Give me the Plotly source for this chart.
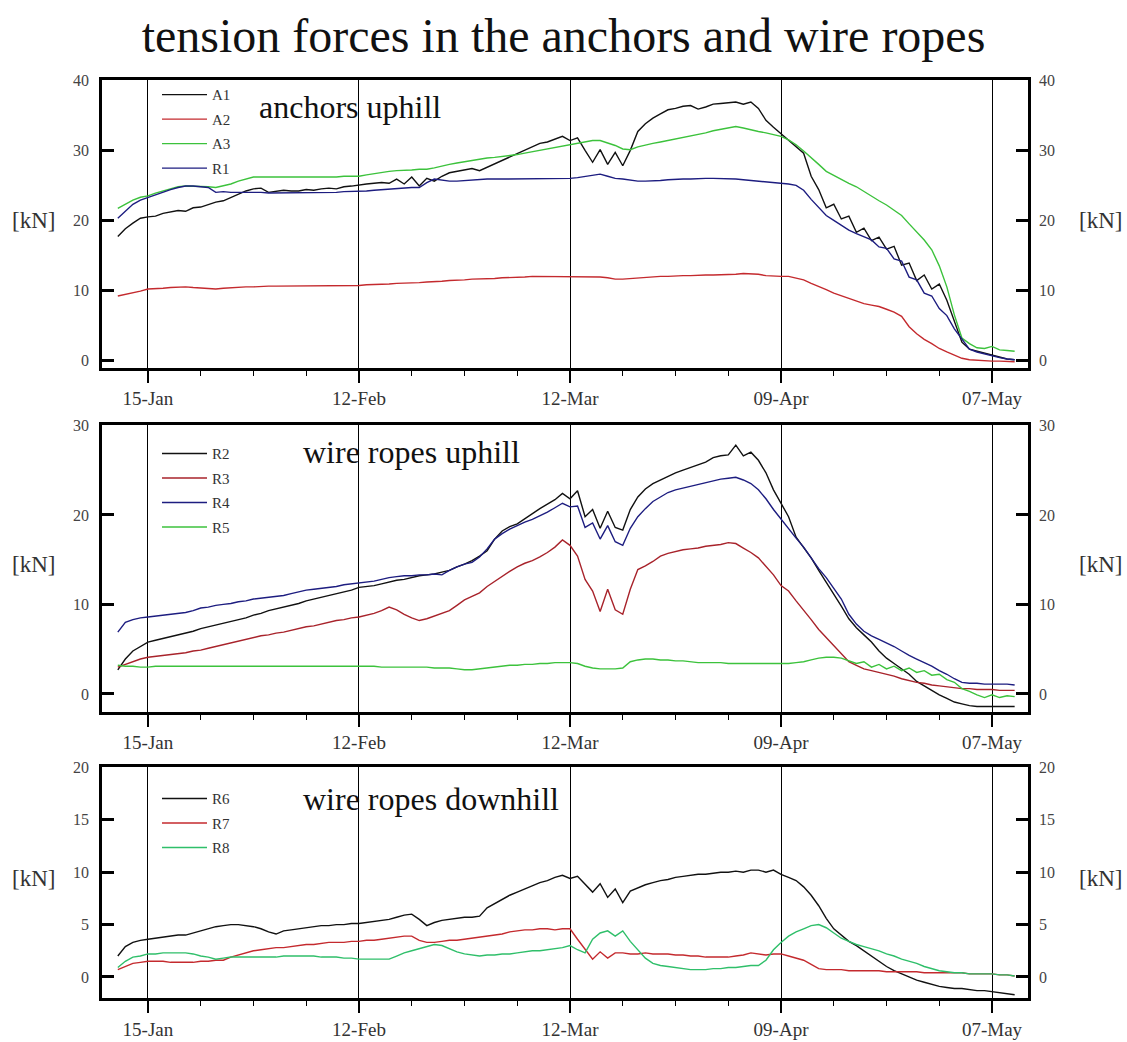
import pandas as pd
import plotly.graph_objects as go

# ---------------- data (daily readings, day 0 = 15-Jan) ----------------
day_offsets = list(range(-4, 116))

A1 = [17.7, 18.8, 19.6, 20.3, 20.5, 20.6, 21.0, 21.2, 21.4, 21.3,
      21.8, 21.9, 22.3, 22.6, 22.8, 23.3, 23.8, 24.2, 24.5, 24.6,
      24.0, 24.1, 24.3, 24.2, 24.2, 24.4, 24.3, 24.5, 24.6, 24.5,
      24.8, 24.9, 25.1, 25.2, 25.3, 25.4, 25.3, 25.9, 25.2, 26.2,
      24.9, 26.0, 25.6, 26.3, 26.8, 27.0, 27.2, 27.4, 27.1, 27.6,
      28.0, 28.5, 29.0, 29.5, 30.0, 30.5, 31.0, 31.2, 31.6, 32.0,
      31.4, 31.8, 30.0, 28.3, 30.1, 28.0, 29.7, 27.8, 30.0, 32.7,
      33.8, 34.6, 35.2, 35.8, 36.0, 36.3, 36.4, 35.9, 36.2, 36.6,
      36.7, 36.8, 36.9, 36.6, 36.9, 36.0, 34.3, 33.3, 32.4, 31.5,
      30.6, 29.6, 26.3, 24.4, 21.8, 22.3, 20.2, 20.6, 18.3, 18.9,
      17.1, 17.6, 15.9, 16.3, 13.6, 13.9, 11.4, 12.2, 10.2, 10.9,
      8.6, 5.5, 2.6, 1.6, 1.3, 1.0, 0.8, 0.4, 0.2, 0.1]
A2 = [9.2, 9.4, 9.7, 9.9, 10.2, 10.2, 10.3, 10.4, 10.5, 10.5,
      10.4, 10.3, 10.2, 10.2, 10.3, 10.4, 10.5, 10.5, 10.5, 10.6,
      10.6, 10.6, 10.6, 10.6, 10.6, 10.6, 10.7, 10.7, 10.7, 10.7,
      10.7, 10.7, 10.7, 10.8, 10.8, 10.9, 10.9, 11.0, 11.0, 11.1,
      11.1, 11.2, 11.2, 11.3, 11.4, 11.4, 11.5, 11.6, 11.6, 11.7,
      11.7, 11.8, 11.8, 11.9, 11.9, 12.0, 12.0, 12.0, 12.0, 12.0,
      12.0, 12.0, 12.0, 12.0, 11.9, 11.8, 11.6, 11.6, 11.7, 11.8,
      11.9, 11.9, 12.0, 12.0, 12.1, 12.1, 12.1, 12.2, 12.2, 12.2,
      12.2, 12.3, 12.3, 12.4, 12.4, 12.3, 12.1, 12.0, 12.0, 12.0,
      11.8, 11.5, 11.0, 10.6, 10.1, 9.6, 9.2, 8.8, 8.4, 8.1,
      7.9, 7.7, 7.3, 6.9, 6.3, 4.8, 3.8, 3.0, 2.4, 1.7,
      1.2, 0.7, 0.3, 0.1, 0.0, -0.1, -0.1, -0.1, -0.2, -0.2]
A3 = [21.7, 22.3, 22.9, 23.3, 23.5, 23.9, 24.2, 24.5, 24.8, 24.9,
      24.9, 24.9, 24.8, 24.7, 24.9, 25.2, 25.6, 25.9, 26.2, 26.2,
      26.2, 26.1, 26.1, 26.1, 26.1, 26.1, 26.2, 26.2, 26.2, 26.2,
      26.3, 26.3, 26.3, 26.5, 26.7, 26.9, 27.0, 27.1, 27.1, 27.2,
      27.3, 27.3, 27.5, 27.8, 28.0, 28.2, 28.4, 28.6, 28.7, 28.9,
      29.0, 29.1, 29.3, 29.4, 29.6, 29.8, 30.0, 30.2, 30.4, 30.6,
      30.8, 31.0, 31.2, 31.4, 31.4, 31.1, 30.7, 30.2, 30.1, 30.5,
      30.8, 31.0, 31.2, 31.4, 31.6, 31.8, 32.0, 32.3, 32.5, 32.8,
      33.0, 33.2, 33.4, 33.2, 32.9, 32.7, 32.5, 32.3, 32.0, 31.5,
      30.8, 29.9, 29.0, 28.0, 27.0, 26.4, 25.9, 25.3, 24.8, 24.1,
      23.5, 22.8, 22.2, 21.5, 20.7, 19.5, 18.3, 17.2, 15.8, 13.5,
      10.5, 6.5, 3.2, 2.4, 1.8, 1.7, 2.0, 1.5, 1.4, 1.3]
R1 = [20.3, 21.3, 22.3, 22.9, 23.3, 23.6, 24.0, 24.4, 24.7, 24.9,
      24.9, 24.8, 24.7, 24.0, 24.1, 24.0, 24.0, 24.1, 24.0, 24.0,
      23.9, 23.9, 23.9, 23.9, 24.0, 24.0, 24.0, 24.0, 24.0, 24.0,
      24.1, 24.1, 24.1, 24.2, 24.3, 24.4, 24.5, 24.5, 24.6, 24.7,
      24.7, 25.4, 25.9, 25.7, 25.6, 25.6, 25.7, 25.8, 25.9, 25.9,
      25.9, 25.9, 25.9, 25.9, 25.9, 26.0, 26.0, 26.0, 26.0, 26.0,
      26.0, 26.1, 26.3, 26.5, 26.6, 26.3, 26.0, 25.9, 25.7, 25.6,
      25.6, 25.6, 25.7, 25.8, 25.9, 25.9, 25.9, 26.0, 26.0, 26.0,
      26.0, 26.0, 25.9, 25.8, 25.7, 25.6, 25.5, 25.5, 25.4, 25.2,
      25.0, 24.3, 23.0, 21.8, 20.7, 20.0, 19.3, 18.6, 18.1, 17.7,
      17.2, 16.2, 16.0, 14.5, 14.2, 11.9, 11.5, 9.6, 9.2, 7.4,
      6.4, 4.5, 3.0, 1.6, 1.2, 0.9, 0.6, 0.4, 0.2, 0.1]

R2 = [2.7, 3.9, 4.8, 5.3, 5.8, 6.0, 6.2, 6.4, 6.6, 6.8,
      7.0, 7.3, 7.5, 7.7, 7.9, 8.1, 8.3, 8.5, 8.8, 9.0,
      9.3, 9.5, 9.7, 9.9, 10.1, 10.4, 10.6, 10.8, 11.0, 11.2,
      11.4, 11.6, 11.9, 12.0, 12.1, 12.3, 12.5, 12.7, 12.8, 13.0,
      13.2, 13.3, 13.4, 13.6, 13.8, 14.2, 14.5, 14.9, 15.4, 16.0,
      17.3, 18.2, 18.7, 19.0, 19.6, 20.2, 20.7, 21.2, 21.7, 22.4,
      21.8, 22.7, 19.8, 20.6, 18.5, 20.4, 18.6, 18.3, 20.6, 22.0,
      22.9, 23.5, 23.9, 24.3, 24.7, 25.0, 25.3, 25.6, 25.9, 26.4,
      26.6, 26.7, 27.8, 26.6, 27.0, 26.1, 24.7, 22.8, 21.3, 19.8,
      17.5, 16.4, 15.2, 13.8, 12.5, 11.2, 9.8, 8.4, 7.4, 6.6,
      5.8, 4.8, 4.0, 3.4, 2.8, 2.2, 1.4, 0.9, 0.4, -0.1,
      -0.5, -0.9, -1.1, -1.3, -1.4, -1.4, -1.4, -1.4, -1.4, -1.4]
R3 = [3.0, 3.3, 3.6, 3.9, 4.1, 4.2, 4.3, 4.4, 4.5, 4.6,
      4.8, 4.9, 5.1, 5.3, 5.5, 5.7, 5.9, 6.1, 6.3, 6.5,
      6.6, 6.8, 6.9, 7.1, 7.3, 7.5, 7.6, 7.8, 8.0, 8.2,
      8.3, 8.5, 8.6, 8.8, 9.0, 9.3, 9.7, 9.4, 8.9, 8.5,
      8.2, 8.4, 8.7, 9.0, 9.3, 9.9, 10.5, 10.9, 11.3, 12.0,
      12.6, 13.2, 13.7, 14.2, 14.6, 14.9, 15.3, 15.8, 16.4, 17.2,
      16.6, 15.4, 12.8, 11.5, 9.2, 11.7, 9.4, 8.9, 11.7, 13.9,
      14.3, 14.8, 15.4, 15.7, 15.9, 16.1, 16.2, 16.3, 16.5, 16.6,
      16.7, 16.9, 16.8, 16.3, 15.8, 15.2, 14.3, 13.3, 12.1, 11.5,
      10.4, 9.4, 8.3, 7.2, 6.3, 5.5, 4.5, 3.6, 3.2, 2.8,
      2.6, 2.4, 2.2, 2.0, 1.7, 1.5, 1.3, 1.2, 1.0, 0.9,
      0.8, 0.7, 0.6, 0.6, 0.5, 0.5, 0.5, 0.4, 0.4, 0.4]
R4 = [6.9, 8.0, 8.3, 8.5, 8.6, 8.7, 8.8, 8.9, 9.0, 9.1,
      9.3, 9.6, 9.7, 9.9, 10.0, 10.1, 10.3, 10.4, 10.6, 10.7,
      10.8, 10.9, 11.0, 11.2, 11.4, 11.6, 11.7, 11.8, 11.9, 12.0,
      12.2, 12.3, 12.4, 12.5, 12.6, 12.8, 13.0, 13.1, 13.2, 13.2,
      13.3, 13.3, 13.4, 13.3, 13.8, 14.2, 14.5, 14.7, 15.3, 16.2,
      17.3, 17.9, 18.4, 18.8, 19.2, 19.5, 19.9, 20.3, 20.8, 21.3,
      20.9, 21.0, 18.6, 19.1, 17.3, 18.8, 17.0, 16.6, 18.5, 19.8,
      20.7, 21.5, 22.0, 22.5, 22.8, 23.0, 23.2, 23.4, 23.6, 23.8,
      24.0, 24.1, 24.2, 23.9, 23.5, 22.8, 21.8, 20.6, 19.5, 18.4,
      17.4, 16.4, 15.2, 14.0, 13.0, 11.8, 10.6, 8.9, 7.8, 7.0,
      6.5, 6.1, 5.7, 5.3, 4.8, 4.3, 3.9, 3.5, 3.1, 2.6,
      2.2, 1.7, 1.3, 1.2, 1.2, 1.1, 1.1, 1.1, 1.1, 1.0]
R5 = [3.2, 3.1, 3.1, 3.0, 3.0, 3.1, 3.1, 3.1, 3.1, 3.1,
      3.1, 3.1, 3.1, 3.1, 3.1, 3.1, 3.1, 3.1, 3.1, 3.1,
      3.1, 3.1, 3.1, 3.1, 3.1, 3.1, 3.1, 3.1, 3.1, 3.1,
      3.1, 3.1, 3.1, 3.1, 3.1, 3.0, 3.0, 3.0, 3.0, 3.0,
      3.0, 3.0, 2.9, 2.9, 2.9, 2.8, 2.7, 2.7, 2.8, 2.9,
      3.0, 3.1, 3.2, 3.2, 3.3, 3.3, 3.4, 3.4, 3.5, 3.5,
      3.5, 3.4, 3.1, 2.9, 2.8, 2.8, 2.8, 2.9, 3.6, 3.8,
      3.9, 3.9, 3.8, 3.8, 3.7, 3.7, 3.6, 3.5, 3.5, 3.5,
      3.5, 3.4, 3.4, 3.4, 3.4, 3.4, 3.4, 3.4, 3.4, 3.4,
      3.5, 3.6, 3.8, 4.0, 4.1, 4.1, 4.0, 3.7, 3.4, 3.6,
      3.0, 3.3, 2.8, 3.1, 2.6, 2.9, 2.4, 2.6, 2.1, 2.2,
      1.6, 1.3, 0.6, 0.3, -0.1, -0.4, -0.1, -0.4, -0.2, -0.3]

R6 = [2.0, 2.9, 3.3, 3.5, 3.6, 3.7, 3.8, 3.9, 4.0, 4.0,
      4.2, 4.4, 4.6, 4.8, 4.9, 5.0, 5.0, 4.9, 4.8, 4.6,
      4.3, 4.1, 4.4, 4.5, 4.6, 4.7, 4.8, 4.9, 4.9, 5.0,
      5.0, 5.1, 5.1, 5.2, 5.3, 5.4, 5.5, 5.7, 5.9, 6.0,
      5.5, 4.9, 5.2, 5.4, 5.5, 5.6, 5.7, 5.7, 5.8, 6.6,
      7.0, 7.4, 7.8, 8.1, 8.4, 8.7, 9.0, 9.2, 9.5, 9.7,
      9.4, 9.6, 8.8, 8.1, 8.9, 7.6, 8.4, 7.1, 8.2, 8.5,
      8.8, 9.0, 9.2, 9.3, 9.5, 9.6, 9.7, 9.8, 9.8, 9.9,
      10.0, 10.0, 10.1, 10.0, 10.2, 10.2, 10.0, 10.2, 9.8, 9.5,
      9.2, 8.6, 7.8, 6.8, 5.6, 4.6, 4.0, 3.4, 3.0, 2.5,
      2.0, 1.5, 1.0, 0.6, 0.3, 0.0, -0.3, -0.5, -0.7, -0.9,
      -1.0, -1.1, -1.1, -1.2, -1.3, -1.3, -1.4, -1.5, -1.6, -1.7]
R7 = [0.7, 1.0, 1.3, 1.4, 1.5, 1.5, 1.5, 1.4, 1.4, 1.4,
      1.4, 1.5, 1.5, 1.6, 1.6, 1.9, 2.1, 2.3, 2.5, 2.6,
      2.7, 2.8, 2.8, 2.9, 3.0, 3.1, 3.1, 3.2, 3.3, 3.3,
      3.3, 3.4, 3.4, 3.5, 3.5, 3.6, 3.7, 3.8, 3.9, 3.9,
      3.5, 3.3, 3.3, 3.4, 3.5, 3.5, 3.6, 3.7, 3.8, 3.9,
      4.0, 4.1, 4.3, 4.4, 4.5, 4.5, 4.6, 4.6, 4.5, 4.6,
      4.6, 3.6, 2.6, 1.7, 2.4, 1.8, 2.3, 2.3, 2.2, 2.2,
      2.3, 2.2, 2.2, 2.2, 2.1, 2.1, 2.0, 2.0, 1.9, 1.9,
      1.9, 1.9, 2.0, 2.1, 2.3, 2.2, 2.1, 2.2, 2.2, 2.0,
      1.8, 1.6, 1.2, 0.8, 0.7, 0.7, 0.7, 0.6, 0.6, 0.6,
      0.6, 0.6, 0.5, 0.5, 0.5, 0.5, 0.5, 0.4, 0.4, 0.4,
      0.4, 0.4, 0.4, 0.3, 0.3, 0.3, 0.3, 0.2, 0.2, 0.1]
R8 = [0.9, 1.5, 1.9, 2.0, 2.2, 2.2, 2.3, 2.3, 2.3, 2.3,
      2.2, 2.0, 1.9, 1.7, 1.8, 1.9, 1.9, 1.9, 1.9, 1.9,
      1.9, 1.9, 2.0, 2.0, 2.0, 2.0, 2.0, 1.9, 1.9, 1.9,
      1.8, 1.8, 1.7, 1.7, 1.7, 1.7, 1.7, 2.0, 2.3, 2.5,
      2.7, 2.9, 3.1, 3.0, 2.7, 2.4, 2.2, 2.1, 2.0, 2.1,
      2.1, 2.2, 2.2, 2.3, 2.4, 2.5, 2.5, 2.6, 2.7, 2.8,
      3.0, 2.6, 2.3, 3.6, 4.2, 4.4, 3.9, 4.4, 3.4, 2.6,
      1.8, 1.3, 1.1, 1.0, 0.9, 0.8, 0.7, 0.7, 0.7, 0.8,
      0.8, 0.9, 0.9, 1.0, 1.1, 1.1, 1.6, 2.6, 3.3, 3.9,
      4.3, 4.6, 4.9, 5.0, 4.7, 4.2, 3.7, 3.4, 3.1, 2.9,
      2.7, 2.5, 2.2, 2.0, 1.7, 1.5, 1.3, 1.0, 0.8, 0.6,
      0.5, 0.4, 0.4, 0.3, 0.3, 0.3, 0.3, 0.2, 0.2, 0.1]

panel_titles = ["anchors uphill", "wire ropes uphill", "wire ropes downhill"]
y_ranges = [[-1.07, 40], [-2.0, 30], [-2.04, 20]]
y_dticks = [10, 10, 5]
tick_dates = ["2007-01-15", "2007-02-12", "2007-03-12", "2007-04-09", "2007-05-07"]
x_range = ["2007-01-08 21:40", "2007-05-11 18:30"]

# ---------------- figure ----------------
base = pd.Timestamp("2007-01-15")
dates = [base + pd.Timedelta(days=d) for d in day_offsets]

BLACK = "#111111"
RED = "#c42a2e"
DKRED = "#a8232b"
GREEN = "#3cc23c"
TEAL = "#2fbf6a"
NAVY = "#1d1d80"
SERIF = "Liberation Serif, Times New Roman, serif"

panels = [
    [("A1", A1, BLACK), ("A2", A2, RED), ("A3", A3, GREEN), ("R1", R1, NAVY)],
    [("R2", R2, BLACK), ("R3", R3, DKRED), ("R4", R4, NAVY), ("R5", R5, GREEN)],
    [("R6", R6, BLACK), ("R7", R7, RED), ("R8", R8, TEAL)],
]

W, H = 1127, 1042
px_top = [73, 421, 766]
px_bot = [363, 710, 999]
px_left, px_right = 102, 1028

fig = go.Figure()
for i, series in enumerate(panels):
    n = i + 1
    xa = "x" if n == 1 else f"x{n}"
    ya = "y" if n == 1 else f"y{n}"
    lg = "legend" if n == 1 else f"legend{n}"
    for name, vals, col in series:
        fig.add_trace(go.Scatter(
            x=dates, y=vals, name=name, mode="lines",
            line=dict(color=col, width=1.4),
            xaxis=xa, yaxis=ya, legend=lg, legendgroup=name,
        ))
    # empty trace that anchors the right-hand axis
    fig.add_trace(go.Scatter(x=[dates[0]], y=[None], xaxis=xa, yaxis=f"y{n + 3}",
                             showlegend=False, hoverinfo="skip"))

layout = dict(
    width=W, height=H,
    margin=dict(l=0, r=0, t=0, b=0),
    paper_bgcolor="white", plot_bgcolor="white",
    font=dict(family=SERIF, color="#333333", size=14),
    showlegend=True,
    title=dict(text="tension forces in the anchors and wire ropes",
               x=0.5, xanchor="center", y=1 - 35 / H, yanchor="middle",
               font=dict(family=SERIF, size=48, color="#111111")),
)

annotations = []
leg_top = [71, 433, 781]
title_left = [257, 301, 301]
title_y = [100, 448, 798]
for i in range(3):
    n = i + 1
    dom_y = [1 - px_bot[i] / H, 1 - px_top[i] / H]
    dom_x = [px_left / W, px_right / W]
    xkey = "xaxis" if n == 1 else f"xaxis{n}"
    ykey = "yaxis" if n == 1 else f"yaxis{n}"
    yref = "y" if n == 1 else f"y{n}"
    layout[xkey] = dict(
        type="date", domain=dom_x, anchor=yref, range=x_range,
        tickvals=tick_dates, tickformat="%d-%b",
        ticks="outside", ticklen=12, tickwidth=1.5, tickcolor="black",
        showgrid=True, gridcolor="black", gridwidth=1.3,
        showline=True, mirror=True, linecolor="black", linewidth=2.5,
        tickfont=dict(family=SERIF, size=19, color="#333333"),
        minor=dict(dtick=7 * 86400000, tick0="2007-01-15", ticks="outside",
                   ticklen=5, tickwidth=1.2, tickcolor="black", showgrid=False),
        zeroline=False,
    )
    layout[ykey] = dict(
        domain=dom_y, anchor=("x" if n == 1 else f"x{n}"), range=y_ranges[i],
        tick0=0, dtick=y_dticks[i], ticks="inside", ticklen=12, tickwidth=2.5,
        tickcolor="black", showgrid=False, zeroline=False,
        showline=True, mirror="allticks", linecolor="black", linewidth=2.5,
        ticklabelstandoff=7,
        tickfont=dict(family=SERIF, size=16, color="#444444"),
    )
    layout[f"yaxis{n + 3}"] = dict(
        overlaying=yref, side="right", anchor=("x" if n == 1 else f"x{n}"),
        range=y_ranges[i], tick0=0, dtick=y_dticks[i], ticks="",
        showgrid=False, zeroline=False, showline=False,
        ticklabelstandoff=10,
        tickfont=dict(family=SERIF, size=16, color="#444444"),
    )
    lg = "legend" if n == 1 else f"legend{n}"
    layout[lg] = dict(
        x=157 / W, y=1 - leg_top[i] / H, xanchor="left", yanchor="top",
        bgcolor="rgba(0,0,0,0)", borderwidth=0,
        font=dict(family=SERIF, size=15, color="#333333"),
        tracegroupgap=2, itemwidth=45,
    )
    annotations.append(dict(text=panel_titles[i], xref="paper", yref="paper",
                            x=title_left[i] / W, y=1 - title_y[i] / H,
                            xanchor="left", yanchor="middle", showarrow=False,
                            font=dict(family=SERIF, size=32, color="#111111")))
    ymid = 1 - ((px_top[i] + px_bot[i]) / 2 - 4) / H
    annotations.append(dict(text="[kN]", xref="paper", yref="paper",
                            x=33 / W, y=ymid, xanchor="center", yanchor="middle",
                            showarrow=False,
                            font=dict(family=SERIF, size=23, color="#333333")))
    annotations.append(dict(text="[kN]", xref="paper", yref="paper",
                            x=1100 / W, y=ymid, xanchor="center", yanchor="middle",
                            showarrow=False,
                            font=dict(family=SERIF, size=23, color="#333333")))

layout["annotations"] = annotations
fig.update_layout(**layout)
fig.write_html("out.html")
